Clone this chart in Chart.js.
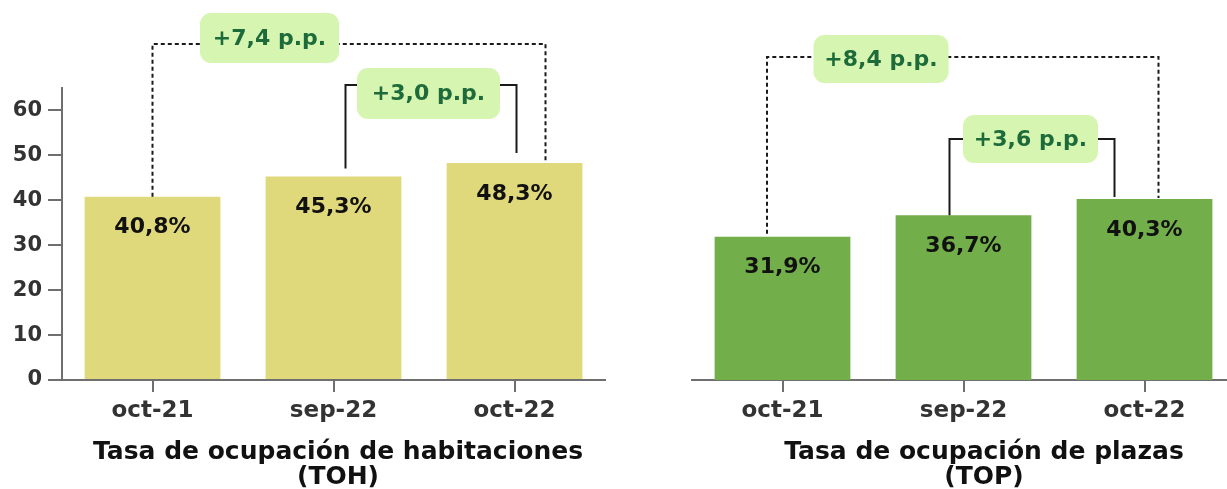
<!DOCTYPE html>
<html>
<head>
<meta charset="utf-8">
<script src="https://cdn.jsdelivr.net/npm/chart.js@4/dist/chart.umd.min.js"></script>
<style>
  body { margin: 0; background: #fff; }
  #wrap { position: relative; width: 1227px; height: 489px; overflow: hidden; background: #fff; }
  #leftBox { position: absolute; left: 0; top: 0; width: 620px; height: 489px; }
  #rightBox { position: absolute; left: 620px; top: 0; width: 607px; height: 489px; overflow: hidden; }
</style>
</head>
<body>
<div id="wrap">
  <div id="leftBox"><canvas id="tohChart" width="620" height="489"></canvas></div>
  <div id="rightBox"><canvas id="topChart" width="640" height="489"></canvas></div>
</div>
<script>
// data
const categories = ['oct-21', 'sep-22', 'oct-22'];
const tohValues = [40.8, 45.3, 48.3];
const topValues = [31.9, 36.7, 40.3];
const yTicks = [0, 10, 20, 30, 40, 50, 60];
const tohDiffLabels = ['+7,4 p.p.', '+3,0 p.p.'];
const topDiffLabels = ['+8,4 p.p.', '+3,6 p.p.'];
const tohTitle = ['Tasa de ocupación de habitaciones', '(TOH)'];
const topTitle = ['Tasa de ocupación de plazas', '(TOP)'];

const FONT = '"DejaVu Sans", sans-serif';
const AXIS_GRAY = '#6f6f6f';

// bar value labels inside the bars
const valueLabels = {
    id: 'valueLabels',
    afterDatasetsDraw(chart) {
        const ctx = chart.ctx;
        const meta = chart.getDatasetMeta(0);
        const values = chart.data.datasets[0].data;
        ctx.save();
        ctx.font = 'bold 22px ' + FONT;
        ctx.fillStyle = '#111';
        ctx.textAlign = 'center';
        ctx.textBaseline = 'middle';
        meta.data.forEach((bar, i) => {
            const txt = values[i].toFixed(1).replace('.', ',') + '%';
            ctx.fillText(txt, bar.x, bar.y + 31);
        });
        ctx.restore();
    }
};

// brackets with the p.p. difference boxes
const diffBrackets = {
    id: 'diffBrackets',
    afterDatasetsDraw(chart, args, opts) {
        const ctx = chart.ctx;
        const xs = chart.scales.x;
        const ys = chart.scales.y;
        const values = chart.data.datasets[0].data;
        opts.items.forEach((b, k) => {
            const x1 = xs.getPixelForValue(b.from) + b.dx[0];
            const x2 = xs.getPixelForValue(b.to) + b.dx[1];
            const y1 = ys.getPixelForValue(values[b.from]) - b.gap[0];
            const y2 = ys.getPixelForValue(values[b.to]) - b.gap[1];
            ctx.save();
            ctx.strokeStyle = '#1a1a1a';
            ctx.lineWidth = 2;
            ctx.setLineDash(b.dashed ? [4, 3] : []);
            ctx.beginPath();
            ctx.moveTo(x1, y1);
            ctx.lineTo(x1, b.level);
            ctx.lineTo(x2, b.level);
            ctx.lineTo(x2, y2);
            ctx.stroke();
            ctx.setLineDash([]);
            // box
            const bx = b.box.cx - b.box.w / 2, by = b.box.cy - b.box.h / 2;
            ctx.fillStyle = '#d5f5b0';
            ctx.beginPath();
            ctx.roundRect(bx, by, b.box.w, b.box.h, 11);
            ctx.fill();
            ctx.font = 'bold 22px ' + FONT;
            ctx.fillStyle = '#1d6b3a';
            ctx.textAlign = 'center';
            ctx.textBaseline = 'middle';
            ctx.fillText(opts.labels[k], b.box.cx, b.box.cy + 1);
            ctx.restore();
        });
    }
};

// two-line title under the axis
const bottomTitle = {
    id: 'bottomTitle',
    afterDraw(chart, args, opts) {
        const ctx = chart.ctx;
        ctx.save();
        ctx.font = 'bold 25px ' + FONT;
        ctx.fillStyle = '#111';
        ctx.textAlign = 'center';
        ctx.textBaseline = 'alphabetic';
        opts.lines.forEach((line, i) => ctx.fillText(line, opts.x, 459 + i * 25));
        ctx.restore();
    }
};

function makeChart(canvasId, values, color, showY, yWidth, padLeft, padRight, diffLabels, brackets, title, titleX) {
    const ctx = document.getElementById(canvasId).getContext('2d');
    return new Chart(ctx, {
        type: 'bar',
        data: {
            labels: categories,
            datasets: [{
                data: values,
                backgroundColor: color,
                borderWidth: 0,
                categoryPercentage: 0.75,
                barPercentage: 1
            }]
        },
        options: {
            responsive: false,
            animation: false,
            layout: { padding: { top: 88, left: padLeft, right: padRight, bottom: 0 } },
            scales: {
                x: {
                    grid: { display: true, offset: false, drawOnChartArea: false, drawTicks: true,
                            tickLength: 12, color: AXIS_GRAY, lineWidth: 2 },
                    border: { display: true, color: AXIS_GRAY, width: 2 },
                    ticks: { color: '#333', padding: 5, font: { family: FONT, size: 23, weight: 'bold' } },
                    afterFit: (s) => { s.height = 109; }
                },
                y: {
                    display: showY,
                    min: 0,
                    max: 65,
                    grid: { display: true, drawOnChartArea: false, drawTicks: true,
                            tickLength: 14, color: AXIS_GRAY, lineWidth: 2 },
                    border: { display: true, color: AXIS_GRAY, width: 2 },
                    ticks: { stepSize: 10, color: '#333', padding: 6, font: { family: FONT, size: 21, weight: 'bold' } },
                    afterBuildTicks: (s) => { s.ticks = yTicks.map(v => ({ value: v })); },
                    afterFit: (s) => { s.width = yWidth; }
                }
            },
            plugins: {
                legend: { display: false },
                tooltip: { enabled: false },
                diffBrackets: { labels: diffLabels, items: brackets },
                bottomTitle: { lines: title, x: titleX }
            }
        },
        plugins: [valueLabels, diffBrackets, bottomTitle]
    });
}

makeChart('tohChart', tohValues, '#e0d97b', true, 62, 0, 15, tohDiffLabels, [
    { from: 0, to: 2, dx: [0, 31], gap: [0, 0], level: 44, dashed: true,
      box: { cx: 269.5, cy: 38, w: 139, h: 50 } },
    { from: 1, to: 2, dx: [12, 2], gap: [8, 10], level: 85, dashed: false,
      box: { cx: 428.5, cy: 93.5, w: 143, h: 51 } }
], tohTitle, 338);

makeChart('topChart', topValues, '#72ae4a', false, 0, 72, 25, topDiffLabels, [
    { from: 0, to: 2, dx: [-15.5, 14], gap: [3, 1], level: 57, dashed: true,
      box: { cx: 261, cy: 59, w: 135, h: 48 } },
    { from: 1, to: 2, dx: [-14, -30], gap: [0, 2], level: 139, dashed: false,
      box: { cx: 410.5, cy: 139, w: 135, h: 48 } }
], topTitle, 364);
</script>
</body>
</html>
